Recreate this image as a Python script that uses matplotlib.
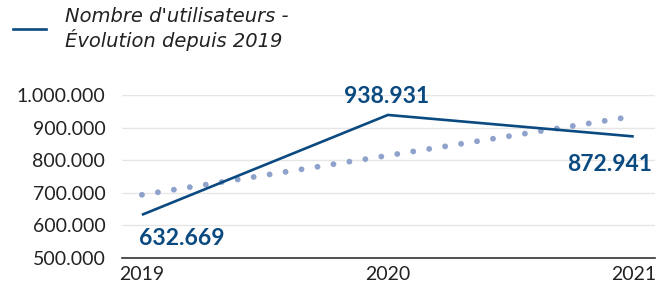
import numpy as np
import matplotlib
matplotlib.use("Agg")
import matplotlib.pyplot as plt
from matplotlib.lines import Line2D

# data
years = [2019, 2020, 2021]
users = [632669, 938931, 872941]
labels = ["632.669", "938.931", "872.941"]
trend_years = [2019, 2021]
trend_vals = [694000, 935000]
yticks = [500000, 600000, 700000, 800000, 900000, 1000000]
ytick_labels = ["500.000", "600.000", "700.000", "800.000", "900.000", "1.000.000"]

blue = "#0a4a80"
dot_blue = "#8fa2cb"
txt = "#222222"

plt.rcParams['font.family'] = ['Lato', 'DejaVu Sans']

fig = plt.figure(figsize=(6.56, 2.88), dpi=100)
ax = fig.add_axes([0.186, 0.104, 0.812, 0.566])

#trend line (dotted)
ax.plot(trend_years, trend_vals, color=dot_blue, lw=4.2,
        linestyle=(0, (0.01, 2.76)), dash_capstyle='round', zorder=2)
#main series
ax.plot(years, users, color=blue, lw=1.9, solid_capstyle='butt', zorder=3)

#value labels
ax.annotate(labels[0], (years[0], users[0]), xytext=(-2, -17), textcoords='offset points',
            ha='left', va='center', fontsize=16.5, fontweight='bold', color=blue)
ax.annotate(labels[1], (years[1], users[1]), xytext=(-1, 13), textcoords='offset points',
            ha='center', va='center', fontsize=16.5, fontweight='bold', color=blue)
ax.annotate(labels[2], (years[2], users[2]), xytext=(13, -20), textcoords='offset points',
            ha='right', va='center', fontsize=16.5, fontweight='bold', color=blue)

ax.set_xlim(2018.919, 2021.085)
ax.set_ylim(500000, 1000000)
ax.set_yticks(yticks)
ax.set_yticklabels(ytick_labels)
ax.set_xticks(years)
ax.set_xticklabels([str(y) for y in years])
ax.tick_params(axis='both', length=0, labelsize=14, colors=txt)
ax.tick_params(axis='y', pad=12)
ax.tick_params(axis='x', pad=6)
ax.grid(axis='y', color='#e6e6e6', lw=1.0)
ax.set_axisbelow(True)
for s in ['top', 'right', 'left']:
    ax.spines[s].set_visible(False)
ax.spines['bottom'].set_color('#333333')
ax.spines['bottom'].set_linewidth(1.2)
ax.spines['bottom'].set_zorder(1)

#legend in the top left
fig.add_artist(Line2D([13/656, 46/656], [1-29/288, 1-29/288], color=blue, lw=1.9))
fig.text(65/656, 1-17/288, "Nombre d'utilisateurs -", fontsize=14, style='italic',
         color=txt, va='center', ha='left', family='DejaVu Sans')
fig.text(65/656, 1-40/288, "Évolution depuis 2019", fontsize=14, style='italic',
         color=txt, va='center', ha='left', family='DejaVu Sans')

fig.savefig("out.png", dpi=100)
